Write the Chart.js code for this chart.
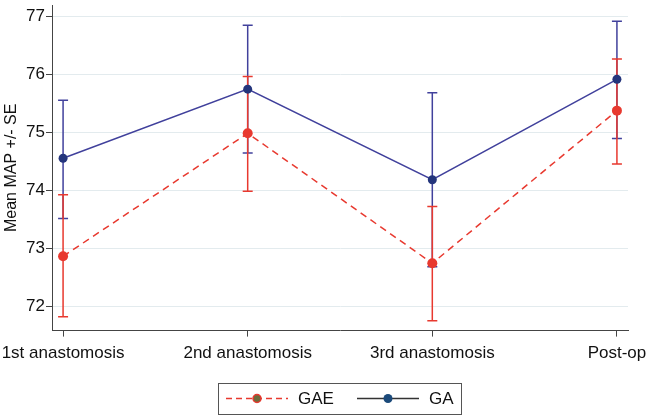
<!DOCTYPE html>
<html>
<head>
<meta charset="utf-8">
<script src="https://cdn.jsdelivr.net/npm/chart.js@4/dist/chart.umd.min.js"></script>
<style>
  html, body { margin: 0; padding: 0; background: #fff; }
</style>
</head>
<body>
<canvas id="chart" width="650" height="419"></canvas>
<script>
'use strict';

// values
const categories = ['1st anastomosis', '2nd anastomosis', '3rd anastomosis', 'Post-op'];
const yTicks = [72, 73, 74, 75, 76, 77];

const gaeMean = [72.87, 74.99, 72.75, 75.38];
const gaeUpper = [73.93, 75.97, 73.73, 76.27];
const gaeLower = [71.83, 73.99, 71.76, 74.46];

const gaMean = [74.56, 75.75, 74.19, 75.92];
const gaUpper = [75.56, 76.85, 75.69, 76.92];
const gaLower = [73.52, 74.65, 72.69, 74.90];

const red = '#e8392f';
const blue = '#41419c';
const navy = '#24357c';
const font = "'Liberation Sans', Arial, sans-serif";

const toPoints = arr => arr.map((v, i) => ({ x: i, y: v }));

// SE whiskers, drawn behind the lines
const errorBars = {
    id: 'errorBars',
    beforeDatasetsDraw(chart) {
        const { ctx, scales: { x, y } } = chart;
        const sets = [
            { lo: gaLower, hi: gaUpper, color: blue },
            { lo: gaeLower, hi: gaeUpper, color: red }
        ];
        ctx.save();
        ctx.lineWidth = 1.5;
        sets.forEach(s => {
            s.lo.forEach((lo, i) => {
                const px = x.getPixelForValue(i);
                const yLo = y.getPixelForValue(lo);
                const yHi = y.getPixelForValue(s.hi[i]);
                ctx.strokeStyle = s.color;
                ctx.beginPath();
                ctx.moveTo(px, yLo);
                ctx.lineTo(px, yHi);
                ctx.moveTo(px - 5, yLo);
                ctx.lineTo(px + 5, yLo);
                ctx.moveTo(px - 5, yHi);
                ctx.lineTo(px + 5, yHi);
                ctx.stroke();
            });
        });
        ctx.restore();
    }
};

// boxed legend under the axis, Stata style
const boxLegend = {
    id: 'boxLegend',
    afterDraw(chart) {
        const ctx = chart.ctx;
        const top = 383, bottom = 414, left = 218, right = 461;
        const mid = (top + bottom) / 2;
        ctx.save();
        ctx.strokeStyle = '#555';
        ctx.lineWidth = 1;
        ctx.strokeRect(left + 0.5, top + 0.5, right - left, bottom - top);

        ctx.lineWidth = 1.5;
        ctx.strokeStyle = red;
        ctx.setLineDash([6, 4]);
        ctx.beginPath();
        ctx.moveTo(226, mid);
        ctx.lineTo(288, mid);
        ctx.stroke();
        ctx.setLineDash([]);
        ctx.fillStyle = '#6b6b3c';
        ctx.beginPath();
        ctx.arc(257, mid, 4, 0, Math.PI * 2);
        ctx.fill();
        ctx.stroke();

        ctx.strokeStyle = '#333';
        ctx.beginPath();
        ctx.moveTo(357, mid);
        ctx.lineTo(419, mid);
        ctx.stroke();
        ctx.fillStyle = '#1b4a7a';
        ctx.beginPath();
        ctx.arc(388, mid, 4.5, 0, Math.PI * 2);
        ctx.fill();

        ctx.fillStyle = '#111';
        ctx.font = '17px ' + font;
        ctx.textBaseline = 'middle';
        ctx.fillText('GAE', 298, mid + 1);
        ctx.fillText('GA', 429, mid + 1);
        ctx.restore();
    }
};

new Chart(document.getElementById('chart'), {
    type: 'line',
    data: {
        datasets: [
            {
                label: 'GAE',
                data: toPoints(gaeMean),
                borderColor: red,
                backgroundColor: red,
                borderWidth: 1.5,
                borderDash: [7, 5],
                pointRadius: 5,
                pointBorderWidth: 0,
                pointBackgroundColor: red
            },
            {
                label: 'GA',
                data: toPoints(gaMean),
                borderColor: blue,
                backgroundColor: navy,
                borderWidth: 1.5,
                pointRadius: 4.5,
                pointBorderWidth: 0,
                pointBackgroundColor: navy
            }
        ]
    },
    options: {
        responsive: false,
        animation: false,
        devicePixelRatio: 1,
        layout: { padding: { top: 3, right: 22, bottom: 48, left: 0 } },
        plugins: {
            legend: { display: false },
            tooltip: { enabled: false }
        },
        scales: {
            x: {
                type: 'linear',
                min: -0.06,
                max: 3.06,
                afterBuildTicks: scale => {
                    scale.ticks = categories.map((c, i) => ({ value: i }));
                },
                // let the long end labels run into the margins
                afterFit: scale => {
                    scale.paddingLeft = 0;
                    scale.paddingRight = 0;
                },
                ticks: {
                    callback: v => categories[v],
                    color: '#111',
                    font: { family: font, size: 17 },
                    maxRotation: 0,
                    padding: 7
                },
                grid: { drawOnChartArea: false, tickLength: 6, tickColor: '#444' },
                border: { color: '#444', width: 1 }
            },
            y: {
                min: 71.59,
                max: 77.2,
                afterBuildTicks: scale => {
                    scale.ticks = yTicks.map(v => ({ value: v }));
                },
                afterFit: scale => {
                    scale.width = 52;
                    scale.paddingTop = 0;
                    scale.paddingBottom = 0;
                },
                ticks: {
                    color: '#111',
                    font: { family: font, size: 17 },
                    padding: 1
                },
                grid: { color: '#e3ebee', tickLength: 6, tickColor: '#444' },
                border: { color: '#444', width: 1 },
                title: {
                    display: true,
                    text: 'Mean MAP +/- SE',
                    color: '#111',
                    font: { family: font, size: 16 },
                    padding: { top: 2, bottom: 0 }
                }
            }
        }
    },
    plugins: [errorBars, boxLegend]
});
</script>
</body>
</html>
